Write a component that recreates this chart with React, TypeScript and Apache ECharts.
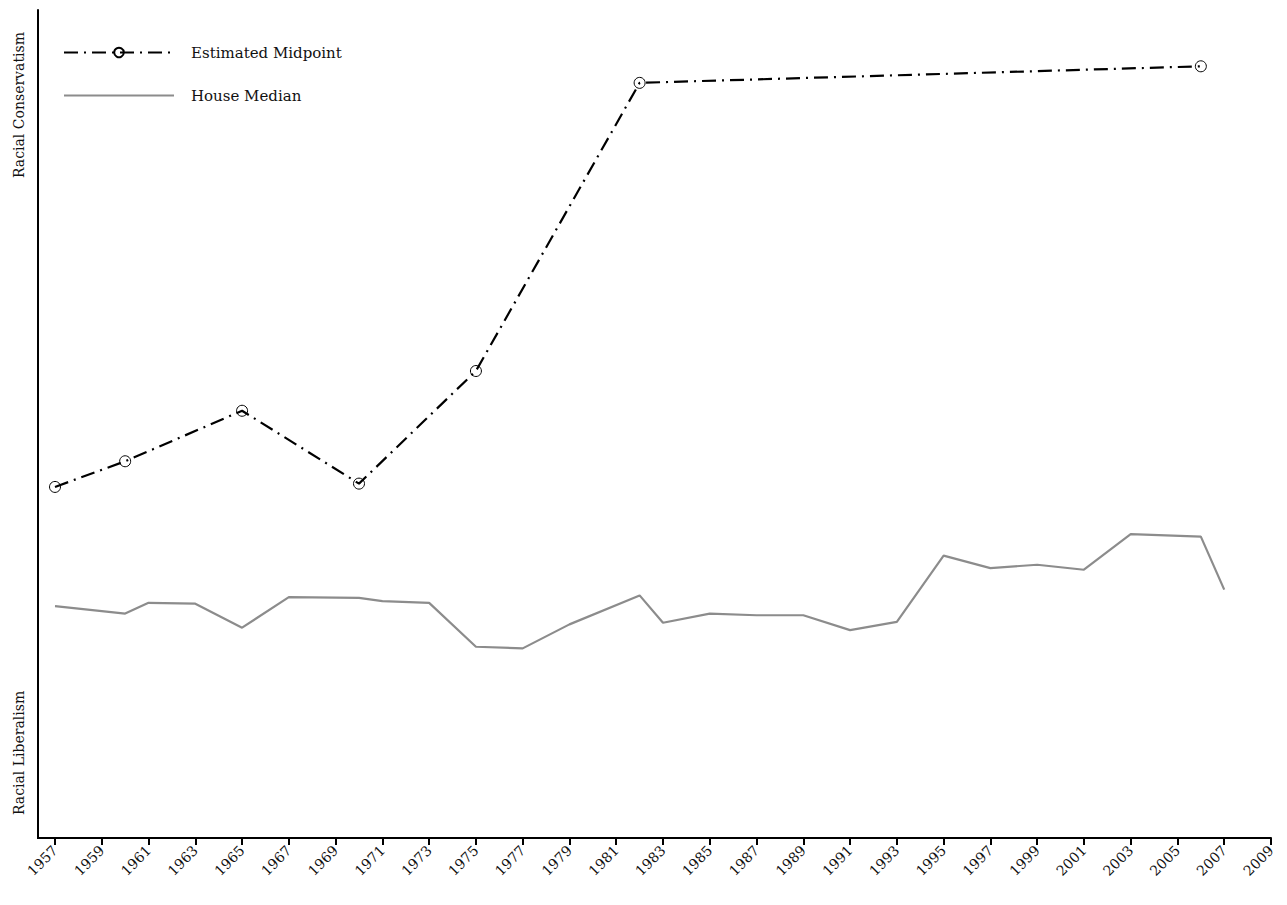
import React, { useEffect, useRef } from 'react';
import * as echarts from 'echarts';

const years: string[] = [];
for (let y = 1957; y <= 2009; y++) years.push(String(y));

const midYears = ['1957', '1960', '1965', '1970', '1975', '1982', '2006'];
const midValues = [42.4, 45.5, 51.6, 42.8, 56.4, 91.2, 93.2];

const houseYears = ['1957', '1960', '1961', '1963', '1965', '1967', '1970', '1971', '1973', '1975', '1977', '1979', '1982', '1983', '1985', '1987', '1989', '1991', '1993', '1995', '1997', '1999', '2001', '2003', '2006', '2007'];
const houseValues = [28.0, 27.1, 28.4, 28.3, 25.4, 29.1, 29.0, 28.6, 28.4, 23.1, 22.9, 25.8, 29.3, 26.0, 27.1, 26.9, 26.9, 25.1, 26.1, 34.1, 32.6, 33.0, 32.4, 36.7, 36.4, 30.0];

const FONT = 'DejaVu Serif';

const App: React.FC = () => {
  const ref = useRef<HTMLDivElement>(null);

  useEffect(() => {
    if (!ref.current) return;
    const chart = echarts.init(ref.current, undefined, { renderer: 'svg' });
    chart.setOption({
      animation: false,
      backgroundColor: '#fff',
      textStyle: { fontFamily: FONT },
      grid: { left: 55, right: 16, top: 10, bottom: 67 },
      legend: {
        orient: 'vertical',
        left: 58,
        top: 40,
        itemWidth: 110,
        itemHeight: 12,
        itemGap: 28,
        textStyle: { fontFamily: FONT, fontSize: 15, color: '#111', padding: [0, 0, 0, 12] },
        data: [
          { name: 'Estimated Midpoint' },
          { name: 'House Median', itemStyle: { opacity: 0 } },
        ],
      },
      xAxis: {
        type: 'category',
        data: years,
        boundaryGap: false,
        axisLine: { lineStyle: { color: '#000', width: 2 } },
        axisTick: { interval: 1, length: 7, lineStyle: { color: '#000', width: 2 } },
        axisLabel: { interval: 1, rotate: 45, color: '#111', fontSize: 14, fontFamily: FONT, margin: 10 },
        splitLine: { show: false },
      },
      yAxis: {
        type: 'value',
        min: 0,
        max: 100,
        offset: 17,
        axisLine: { show: true, lineStyle: { color: '#000', width: 2 } },
        axisTick: { show: false },
        axisLabel: { show: false },
        splitLine: { show: false },
      },
      graphic: [
        { type: 'line', shape: { x1: 37, y1: 838, x2: 56, y2: 838 }, style: { stroke: '#000', lineWidth: 2 } },
        { type: 'text', x: 12, y: 178, rotation: Math.PI / 2, style: { text: 'Racial Conservatism', font: `14px "${FONT}"`, fill: '#111' } },
        { type: 'text', x: 12, y: 815, rotation: Math.PI / 2, style: { text: 'Racial Liberalism', font: `14px "${FONT}"`, fill: '#111' } },
      ],
      series: [
        {
          name: 'Estimated Midpoint',
          type: 'line',
          data: midYears.map((y, i) => [y, midValues[i]]),
          symbol: 'circle',
          symbolSize: 11,
          showSymbol: true,
          showAllSymbol: true,
          color: '#000',
          itemStyle: { color: 'rgba(255,255,255,0)', borderColor: '#000', borderWidth: 1 },
          lineStyle: { color: '#000', width: 2.2, type: [14, 6, 2, 6] },
        },
        {
          name: 'House Median',
          type: 'line',
          data: houseYears.map((y, i) => [y, houseValues[i]]),
          symbol: 'none',
          color: '#8c8c8c',
          lineStyle: { color: '#8c8c8c', width: 2.2 },
        },
      ],
    });
    return () => chart.dispose();
  }, []);

  return <div ref={ref} style={{ position: 'fixed', left: 0, top: 0, width: 1287, height: 905 }} />;
};

export default App;
